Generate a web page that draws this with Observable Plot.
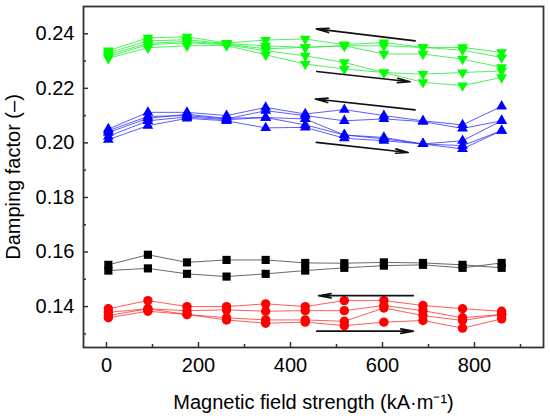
<!DOCTYPE html>
<html>
<head>
<meta charset="utf-8">
<script src="https://cdn.jsdelivr.net/npm/d3@7"></script>
<script src="https://cdn.jsdelivr.net/npm/@observablehq/plot@0.6"></script>
<style>
  body { margin: 0; background: #fff; }
</style>
</head>
<body>
<div id="chart"></div>
<script>
// Magnetic field strength (kA·m⁻¹) at each measuring point
const field = [4, 90, 175, 261, 346, 432, 517, 603, 688, 774, 859];

// Black squares (2 runs)
const black = [
  [0.1553, 0.1590, 0.1562, 0.1571, 0.1571, 0.1560, 0.1559, 0.1562, 0.1560, 0.1553, 0.1542],
  [0.1532, 0.1540, 0.1520, 0.1510, 0.1520, 0.1532, 0.1542, 0.1550, 0.1553, 0.1542, 0.1560]
];
// Red circles (4 runs)
const red = [
  [0.1392, 0.1422, 0.1400, 0.1400, 0.1410, 0.1400, 0.1422, 0.1422, 0.1404, 0.1392, 0.1383],
  [0.1379, 0.1392, 0.1385, 0.1388, 0.1383, 0.1385, 0.1385, 0.1404, 0.1385, 0.1359, 0.1371],
  [0.1367, 0.1392, 0.1371, 0.1359, 0.1351, 0.1351, 0.1346, 0.1395, 0.1367, 0.1349, 0.1371],
  [0.1359, 0.1383, 0.1371, 0.1351, 0.1339, 0.1343, 0.1330, 0.1343, 0.1349, 0.1321, 0.1355]
];
// Blue up-triangles (5 runs)
const blue = [
  [0.2051, 0.2112, 0.2112, 0.2100, 0.2130, 0.2106, 0.2122, 0.2100, 0.2081, 0.2066, 0.2134],
  [0.2045, 0.2097, 0.2100, 0.2088, 0.2118, 0.2100, 0.2081, 0.2088, 0.2078, 0.2053, 0.2081],
  [0.2038, 0.2090, 0.2105, 0.2090, 0.2093, 0.2066, 0.2029, 0.2015, 0.1996, 0.1978, 0.2045],
  [0.2024, 0.2081, 0.2095, 0.2085, 0.2093, 0.2088, 0.2029, 0.2020, 0.1996, 0.2008, 0.2081],
  [0.2012, 0.2063, 0.2090, 0.2081, 0.2055, 0.2057, 0.2017, 0.2008, 0.1996, 0.1990, 0.2045]
];
// Green down-triangles (5 runs)
const green = [
  [0.2338, 0.2385, 0.2389, 0.2366, 0.2377, 0.2381, 0.2360, 0.2368, 0.2350, 0.2350, 0.2332],
  [0.2330, 0.2374, 0.2378, 0.2364, 0.2356, 0.2350, 0.2356, 0.2356, 0.2350, 0.2340, 0.2313],
  [0.2323, 0.2365, 0.2372, 0.2362, 0.2345, 0.2350, 0.2356, 0.2326, 0.2326, 0.2307, 0.2277],
  [0.2316, 0.2360, 0.2367, 0.2360, 0.2338, 0.2319, 0.2295, 0.2258, 0.2252, 0.2258, 0.2264],
  [0.2310, 0.2349, 0.2356, 0.2357, 0.2323, 0.2289, 0.2271, 0.2258, 0.2222, 0.2210, 0.2240]
];

// Direction arrows (data coordinates): [x1, y1, x2, y2]
const arrows = [
  [671, 0.2374, 456, 0.2418],
  [457, 0.2262, 660, 0.2224],
  [671, 0.2121, 454, 0.2161],
  [456, 0.2002, 656, 0.1965],
  [667, 0.1440, 461, 0.1440],
  [457, 0.1310, 667, 0.1310]
];

const yTicks = [0.14, 0.16, 0.18, 0.20, 0.22, 0.24];
const yMinor = [0.13, 0.15, 0.17, 0.19, 0.21, 0.23];
const xTicks = [0, 200, 400, 600, 800];
const xMinor = [100, 300, 500, 700, 900];

const groups = [
  {name: "black", runs: black, color: "#000000", line: "#444444", symbol: "square", rotate: 0, r: 4.6},
  {name: "red", runs: red, color: "#ff0000", line: "#ff3333", symbol: "circle", rotate: 0, r: 4.7},
  {name: "blue", runs: blue, color: "#0000ff", line: "#3333ff", symbol: "triangle", rotate: 0, r: 4.0},
  {name: "green", runs: green, color: "#00ff00", line: "#22ee33", symbol: "triangle", rotate: 180, r: 4.0}
];

const rows = [];
groups.forEach(g => g.runs.forEach((run, i) => run.forEach((v, j) => {
  rows.push({group: g.name, run: g.name + i, x: field[j], y: v});
})));

const arrowRows = arrows.map(([x1, y1, x2, y2]) => ({x1, y1, x2, y2}));

const marks = [];
groups.forEach(g => {
  const data = rows.filter(d => d.group === g.name);
  marks.push(Plot.line(data, {x: "x", y: "y", z: "run", stroke: g.line, strokeWidth: 1, strokeOpacity: 0.8}));
});
groups.forEach(g => {
  const data = rows.filter(d => d.group === g.name);
  marks.push(Plot.dot(data, {x: "x", y: "y", symbol: () => g.symbol, r: g.r, fill: g.color, stroke: "none", rotate: g.rotate}));
});

const chart = Plot.plot({
  width: 550,
  height: 418,
  marginLeft: 83,
  marginRight: 7,
  marginTop: 6,
  marginBottom: 71,
  style: {fontFamily: "Liberation Sans, Arial, sans-serif", fontSize: "20px", color: "#000", background: "#fff"},
  x: {domain: [-50, 950]},
  y: {domain: [0.125, 0.25]},
  symbol: {type: "identity"},
  marks: [
    ...marks,
    Plot.arrow(arrowRows, {x1: "x1", y1: "y1", x2: "x2", y2: "y2", stroke: "#111", strokeWidth: 1.6, headLength: 12, headAngle: 20, bend: 0}),
    // y axis
    Plot.axisY({ticks: yTicks, tickSize: 0, tickPadding: 9, tickFormat: d3.format(".2f"), label: null, fontSize: 20}),
    Plot.axisY({ticks: yTicks, tickSize: 5, dx: 5, tickFormat: () => "", label: null, stroke: "#333", strokeWidth: 1.5}),
    Plot.axisY({ticks: yMinor, tickSize: 3, dx: 3, tickFormat: () => "", label: null, stroke: "#333", strokeWidth: 1.5}),
    // x axis
    Plot.axisX({ticks: xTicks, tickSize: 0, tickPadding: 10, tickFormat: d3.format("d"), label: null, fontSize: 20}),
    Plot.axisX({ticks: xTicks, tickSize: 5, dy: -5, tickFormat: () => "", label: null, stroke: "#333", strokeWidth: 1.5}),
    Plot.axisX({ticks: xMinor, tickSize: 3, dy: -3, tickFormat: () => "", label: null, stroke: "#333", strokeWidth: 1.5}),
    Plot.frame({stroke: "#333", strokeWidth: 1.8}),
    Plot.text(["Magnetic field strength (kA·m⁻¹)"], {frameAnchor: "bottom", dy: 55, text: d => d, fontSize: 20, textAnchor: "middle", lineAnchor: "middle", fill: "#000"}),
    Plot.text(["Damping factor (–)"], {frameAnchor: "left", dx: -70, rotate: -90, text: d => d, fontSize: 20, textAnchor: "middle", lineAnchor: "middle", fill: "#000"})
  ]
});
document.getElementById("chart").appendChild(chart);
</script>
</body>
</html>
